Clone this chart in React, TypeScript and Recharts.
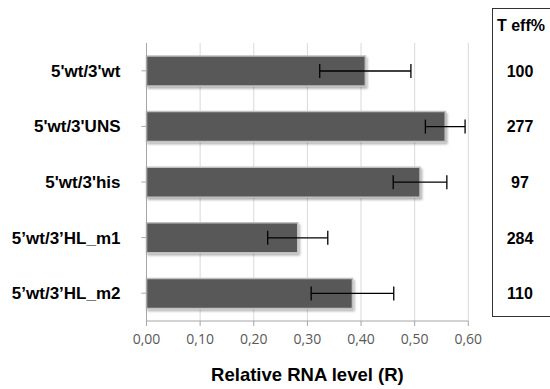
import { Bar, BarChart, CartesianGrid, ErrorBar, XAxis, YAxis } from "recharts";

const CONSTRUCTS = ["5'wt/3'wt", "5'wt/3'UNS", "5'wt/3'his", "5’wt/3’HL_m1", "5’wt/3’HL_m2"];
const RNA_LEVEL = [0.408, 0.557, 0.51, 0.282, 0.384];
const RNA_ERROR = [0.085, 0.037, 0.05, 0.056, 0.077];
const T_EFF = ["100", "277", "97", "284", "110"];
const X_TICKS = [0, 0.1, 0.2, 0.3, 0.4, 0.5, 0.6];

const data = CONSTRUCTS.map((name, i) => ({
	name,
	value: RNA_LEVEL[i],
	err: RNA_ERROR[i],
	teff: T_EFF[i],
}));

const BOLD = "'Liberation Sans', Arial, sans-serif";

function TeffTick(props: any) {
	const { y, payload } = props;
	const idx = CONSTRUCTS.indexOf(payload.value);
	return (
		<text x={520} y={y} dy={6} textAnchor="middle" fontFamily={BOLD} fontWeight="bold" fontSize={16} fill="#000">
			{T_EFF[idx]}
		</text>
	);
}

export default function App() {
	return (
		<div style={{ position: "absolute", left: 0, top: 0, width: 550, height: 389, background: "#fff" }}>
			<BarChart
				width={550}
				height={389}
				data={data}
				layout="vertical"
				margin={{ top: 43, right: 0, bottom: 0, left: 0 }}
				barCategoryGap={13}
			>
				<defs>
					<filter id="shadow" x="-5%" y="-20%" width="110%" height="150%">
						<feDropShadow dx={1.5} dy={2} stdDeviation={1.2} floodColor="#000" floodOpacity={0.3} />
					</filter>
				</defs>
				<CartesianGrid horizontal={false} stroke="#d9d9d9" />
				<XAxis
					type="number"
					domain={[0, 0.6]}
					ticks={X_TICKS}
					tickFormatter={(v: number) => v.toFixed(2).replace(".", ",")}
					height={68}
					stroke="#a6a6a6"
					tickSize={5}
					tickMargin={8}
					tick={{ fill: "#595959", fontSize: 14, fontFamily: "'Open Sans', sans-serif" }}
					label={{
						value: "Relative RNA level (R)",
						position: "insideBottom",
						offset: 8,
						fill: "#000",
						fontSize: 18.5,
						fontWeight: "bold",
						fontFamily: BOLD,
					}}
				/>
				<YAxis
					yAxisId="left"
					type="category"
					dataKey="name"
					width={146.5}
					stroke="#a6a6a6"
					tickSize={5}
					tickMargin={21}
					tick={{ fill: "#000", fontSize: 17, fontWeight: "bold", fontFamily: BOLD }}
				/>
				<YAxis
					yAxisId="right"
					orientation="right"
					type="category"
					dataKey="name"
					width={81.7}
					axisLine={false}
					tickLine={false}
					tick={<TeffTick />}
				/>
				<Bar
					yAxisId="left"
					dataKey="value"
					fill="#595959"
					stroke="#bfbfbf"
					strokeWidth={1.5}
					filter="url(#shadow)"
					isAnimationActive={false}
				>
					<ErrorBar dataKey="err" direction="x" width={7} stroke="#000" strokeWidth={1.3} />
				</Bar>
			</BarChart>
			<div
				style={{
					position: "absolute",
					left: 492,
					top: 8,
					width: 70,
					height: 309,
					border: "1.3px solid #333",
					boxSizing: "border-box",
				}}
			/>
			<div
				style={{
					position: "absolute",
					left: 497,
					top: 17,
					fontFamily: BOLD,
					fontWeight: "bold",
					fontSize: 16,
					whiteSpace: "nowrap",
				}}
			>
				T eff%
			</div>
		</div>
	);
}
